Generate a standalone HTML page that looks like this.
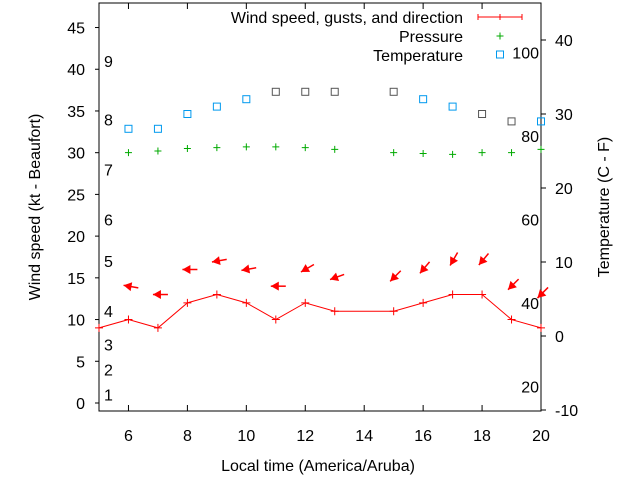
<!DOCTYPE html>
<html><head><meta charset="utf-8"><style>
body{margin:0;background:#fff}
svg text{font-family:"Liberation Sans",sans-serif;font-size:16px;fill:#000}
</style></head><body>
<svg id="c" width="640" height="480" xmlns="http://www.w3.org/2000/svg"></svg>
<script>
const hours=[5,6,7,8,9,10,11,12,13,15,16,17,18,19,20];
const windSpeed=[9,10,9,12,13,12,10,12,11,11,12,13,13,10,9];
const gustHours=[6,7,8,9,10,11,12,13,15,16,17,18,19,20];
const gusts=[14,13,16,17,16,14,16,15,15,16,17,17,14,13];
const windDir=[100,90,90,80,80,90,60,70,45,40,30,40,45,45];
const pressHours=[6,7,8,9,10,11,12,13,15,16,17,18,19,20];
const pressure=[30,30.2,30.5,30.6,30.7,30.7,30.6,30.4,30,29.9,29.8,30,30,30.4];
const tempHours=[6,7,8,9,10,11,12,13,15,16,17,18,19,20];
const temps=[28,28,30,31,32,33,33,33,33,32,31,30,29,29];
const tempGray=[0,0,0,0,0,1,1,1,1,0,0,1,1,0];
const xTicks=[6,8,10,12,14,16,18,20];
const yTicks=[0,5,10,15,20,25,30,35,40,45];
const y2Ticks=[-10,0,10,20,30,40];
const beaufort=[1,2,3,4,5,6,7,8,9];
const beauY=[1,4,7,11,17,22,28,34,41];
const humid=[20,40,60,80,100];
const humidY=[2,12,22,32,42];

const L=99,R=541,T=3,B=411;
const X=h=>L+(h-5)/(20-5)*(R-L);
const Y=v=>B-(v+0.96)/(48.9)*(B-T);
const Y2=v=>336-v*7.4;
const s=document.getElementById('c');
const NS='http://www.w3.org/2000/svg';
function el(t,a,p){const e=document.createElementNS(NS,t);for(const k in a)e.setAttribute(k,a[k]);(p||s).appendChild(e);return e;}
function txt(x,y,str,anchor,name){const e=el('text',{x:x,y:y,'text-anchor':anchor||'start'});e.textContent=str;

return e;}

const frame=el('rect',{x:L,y:T,width:R-L,height:B-T,fill:'none',stroke:'#000'});


xTicks.forEach(h=>{
 el('line',{x1:X(h),x2:X(h),y1:B,y2:B-6,stroke:'#000'});
 el('line',{x1:X(h),x2:X(h),y1:T,y2:T+6,stroke:'#000'});
 txt(X(h),441,String(h),'middle','x-tick-label');
});
yTicks.forEach(v=>{el('line',{x1:L-4,x2:L,y1:Y(v),y2:Y(v),stroke:'#000'});txt(85,Y(v)+6,String(v),'end','y-tick-label');});
y2Ticks.forEach(v=>{el('line',{x1:R,x2:R+5,y1:Y2(v),y2:Y2(v),stroke:'#000'});txt(555,Y2(v)+6,String(v),'start','y2-tick-label');});
beaufort.forEach((b,i)=>txt(104,Y(beauY[i])+6,String(b),'start','beaufort-label'));
humid.forEach((v,i)=>txt(539,Y(humidY[i])+6,String(v),'end','humidity-label'));
txt(318,471,'Local time (America/Aruba)','middle','x-axis-title');
const yt=txt(0,0,'Wind speed (kt - Beaufort)','middle','y-axis-title');yt.setAttribute('transform','translate(40,207) rotate(-90)');
const y2t=txt(0,0,'Temperature (C - F)','middle','y2-axis-title');y2t.setAttribute('transform','translate(609,207) rotate(-90)');

const pts=hours.map((h,i)=>X(h)+','+Y(windSpeed[i])).join(' ');
const pl=el('polyline',{points:pts,fill:'none',stroke:'#f00'});


hours.forEach((h,i)=>{const x=X(h),y=Y(windSpeed[i]);
 const p=el('path',{d:`M${x-4},${y}H${x+4}M${x},${y-4}V${y+4}`,stroke:'#f00'});
 
 });
gustHours.forEach((h,i)=>{const x=X(h),y=Y(gusts[i]);const a=windDir[i]*Math.PI/180;
 const dx=Math.sin(a),dy=-Math.cos(a);
 const tx=x+dx*10,ty=y+dy*10,hx=x-dx*5,hy=y-dy*5;
 const px=-dy,py=dx;
 const g=el('g',{});
 
 
 el('line',{x1:tx,y1:ty,x2:hx,y2:hy,stroke:'#f00','stroke-width':1.5},g);
 el('polygon',{points:`${hx},${hy} ${hx+dx*8+px*4.5},${hy+dy*8+py*4.5} ${hx+dx*8-px*4.5},${hy+dy*8-py*4.5}`,fill:'#f00'},g);
});
pressHours.forEach((h,i)=>{const x=X(h),y=Y(pressure[i]);
 const p=el('path',{d:`M${x-3.5},${y}H${x+3.5}M${x},${y-3.5}V${y+3.5}`,stroke:'#0a0'});
 
 });
tempHours.forEach((h,i)=>{const x=X(h),y=Y2(temps[i]);
 const r=el('rect',{x:x-3.5,y:y-3.5,width:7,height:7,fill:'none',stroke:tempGray[i]?'#555':'#09e'});
 
 });
txt(463,23,'Wind speed, gusts, and direction','end','legend-wind');
el('path',{d:'M478,17H522M478,14V20M522,14V20M500,14V20',stroke:'#f00'});
txt(463,42,'Pressure','end','legend-pressure');
el('path',{d:'M496.5,36H503.5M500,32.5V39.5',stroke:'#0a0'});
txt(463,61,'Temperature','end','legend-temperature');
el('rect',{x:496.5,y:51,width:7,height:7,fill:'none',stroke:'#09e'});
</script>
</body></html>
